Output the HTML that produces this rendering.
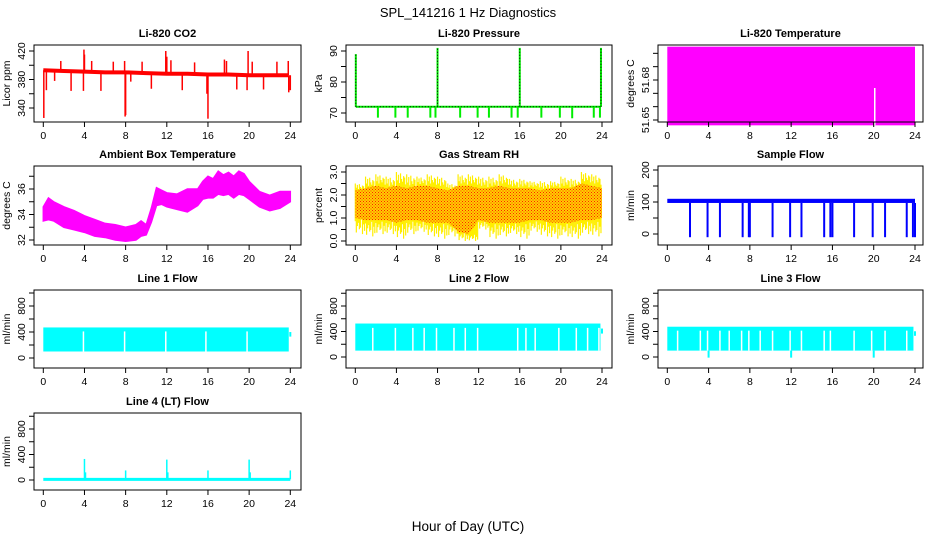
<!DOCTYPE html>
<html><head><meta charset="utf-8"><style>
html,body{margin:0;padding:0;background:#fff;}
svg{display:block;font-family:"Liberation Sans",sans-serif;}
</style></head><body>
<svg id="chart" width="936" height="540" viewBox="0 0 936 540" xmlns="http://www.w3.org/2000/svg">
<defs>
<pattern id="rhpat" width="3" height="3" patternUnits="userSpaceOnUse">
<rect width="3" height="3" fill="#ffd000"/>
<rect x="0" y="0" width="1" height="1" fill="#ff2000"/>
<rect x="1.5" y="1.5" width="1" height="1" fill="#ff3000"/>
</pattern>
</defs>
<text x="468" y="17" font-size="13" text-anchor="middle">SPL_141216  1 Hz Diagnostics</text>
<text x="468" y="531" font-size="13.5" text-anchor="middle">Hour of Day (UTC)</text>
</svg>
<script>
// ---------- data ----------
const xTicks = [0,4,8,12,16,20,24];
// CO2
const co2BaseHours = [0,2,4,6,8,10,12,14,16,18,20,22,23.8];
const co2Base = [393,392,391,390,390,389,388,388,387,387,386,386,386];
const co2SpikeHours = [0.05,0.3,1.1,1.7,2.7,3.9,3.95,4.0,4.7,5.6,6.8,7.9,7.95,8.0,8.5,9.6,10.5,11.9,12.0,12.4,13.5,14.7,15.9,16.0,17.6,17.8,18.8,19.8,19.9,20.3,21.4,22.7,23.8,23.85,24.0];
const co2SpikeVals = [326,365,378,406,364,364,422,415,406,364,405,406,328,330,377,405,367,420,412,407,365,404,360,325,408,406,366,365,420,405,366,405,406,362,365];
// Pressure
const presBase = 72;
const presDipHours = [2.2,3.9,5.1,7.3,7.8,10.2,11.9,13.0,15.2,15.8,18.1,19.9,21.1,23.2,23.8];
const presDipVals = [68.5,68.5,68.5,68.5,68.5,68.5,68.5,68.5,68.5,68.5,68.5,68.5,68.3,68.5,68.5];
const presUpHours = [0.05,8.0,16.0,23.9];
const presUpVals = [89,91,91,91];
// Li-820 temperature
const tempLow = 51.646, tempHigh = 51.705;
const tempGapHours = [20.1];
const tempGapTop = [51.674];
// Ambient box temperature
const ambHours = [0,0.5,1,2,3,4,5,6,7,8,9,9.5,10,10.5,11,11.5,12,13,14,15,15.5,16,16.5,17,17.5,18,18.5,19,19.5,20,21,22,23,24];
const ambUpper = [34.6,35.3,35.0,34.6,34.3,33.9,33.6,33.3,33.2,33.0,33.2,33.5,33.2,34.5,36.1,35.9,35.7,35.6,36.0,36.0,36.6,37.0,36.8,37.4,37.1,37.3,37.0,37.4,37.2,36.6,35.8,35.5,35.8,35.8];
const ambLower = [33.5,33.6,33.5,33.0,32.8,32.6,32.3,32.2,32.0,31.9,32.0,32.3,32.4,33.4,34.7,34.8,34.6,34.4,34.2,34.7,35.2,35.3,35.3,35.6,35.5,35.6,35.3,35.6,35.5,35.2,34.6,34.3,34.5,35.0];
// Gas stream RH
const rhHours = [0,1,2,3,4,5,6,7,8,9,10,11,12,13,14,15,16,17,18,19,20,21,22,23,24];
const rhMax = [2.5,2.8,2.9,2.8,3.0,2.9,2.8,2.9,2.8,2.5,2.9,2.9,2.8,2.8,2.9,2.7,2.7,2.6,2.6,2.6,2.8,2.7,3.0,2.9,3.0];
const rhMin = [0.3,0.2,0.3,0.3,0.1,0.3,0.4,0.2,0.1,0.2,0.0,0.0,0.5,0.1,0.2,0.3,0.1,0.4,0.2,0.1,0.2,0.1,0.3,0.2,0.6];
const rhCoreHigh = [2.2,2.3,2.4,2.3,2.4,2.3,2.4,2.4,2.3,2.2,2.4,2.4,2.3,2.3,2.4,2.3,2.3,2.3,2.2,2.3,2.3,2.3,2.5,2.4,2.3];
const rhCoreLow = [1.0,0.9,0.9,0.9,0.8,0.9,0.9,0.8,0.8,0.8,0.4,0.3,0.9,0.8,0.8,0.8,0.8,0.9,0.9,0.8,0.8,0.8,0.9,0.9,1.0];
// Sample flow
const sfLow = 97, sfHigh = 110;
const sfDipHours = [2.2,3.9,5.1,7.3,7.9,8.0,10.2,11.9,13.0,15.2,15.8,16.0,18.1,19.9,21.1,23.2,23.8,24.0];
const sfDipVals = [-10,-10,-10,-10,-10,-10,-10,-10,-10,-10,-10,-10,-10,-10,-10,-10,-10,-10];
// Line flows
const l1Low = 100, l1High = 470;
const l1Gaps = [3.9,7.9,11.9,15.8,19.8];
const l2Low = 100, l2High = 525;
const l2Gaps = [1.7,3.9,5.6,6.7,7.9,9.6,10.7,11.9,15.8,16.6,17.5,19.8,21.5,22.6,23.7];
const l3Low = 100, l3High = 475;
const l3Gaps = [1.0,3.2,3.9,5.1,6.0,7.2,7.9,9.0,10.2,11.9,13.0,15.2,15.8,18.1,19.8,21.1,23.2];
const l3DipHours = [4.0,12.0,20.0];
const l3DipVals = [-10,-10,-10];
// Line 4
const l4Base = 10;
const l4SpikeHours = [4.0,4.1,8.0,12.0,12.1,16.0,20.0,20.1,24.0];
const l4SpikeVals = [330,120,150,320,120,150,320,120,150];

// ---------- layout ----------
const cols = [{bl:34,br:301,x0:43.3,x24:290.3},{bl:346,br:612,x0:355.3,x24:602},{bl:658,br:923,x0:667.3,x24:915}];
const rows = [{bt:45,bb:122},{bt:166,bb:245},{bt:290,bb:368},{bt:413,bb:490}];
const svg = document.getElementById('chart');
const NS = 'http://www.w3.org/2000/svg';
function mk(tag, attrs, parent){const e=document.createElementNS(NS,tag);for(const k in attrs)e.setAttribute(k,attrs[k]);(parent||svg).appendChild(e);return e;}

function panel(name,title,ylab,col,row,cal,ticks,labels,labelFmt){
  const c=cols[col], r=rows[row];
  const g=mk('g',{});
  
  
  const sx=h=>c.x0+(c.x24-c.x0)*h/24;
  const sy=v=>cal[1]+(cal[3]-cal[1])*(v-cal[0])/(cal[2]-cal[0]);
  const t=mk('text',{x:(c.bl+c.br)/2,y:r.bt-8,'font-size':11,'font-weight':'bold','text-anchor':'middle'},g);
  t.textContent=title;
  
  
  const plot=mk('g',{},g);
  
  
  const axes=mk('g',{},g);
  mk('rect',{x:c.bl,y:r.bt,width:c.br-c.bl,height:r.bb-r.bt,fill:'none',stroke:'#000','stroke-width':1},axes);
  const xa=mk('g',{},axes);
  
  
  mk('line',{x1:sx(0),x2:sx(24),y1:r.bb,y2:r.bb,stroke:'#000'},xa);
  xTicks.forEach(h=>{
    mk('line',{x1:sx(h),x2:sx(h),y1:r.bb,y2:r.bb+5,stroke:'#000'},xa);
    const tl=mk('text',{x:sx(h),y:r.bb+17,'font-size':10.5,'text-anchor':'middle'},xa);
    tl.textContent=h;
  });
  const ya=mk('g',{},axes);
  
  
  mk('line',{x1:c.bl,x2:c.bl,y1:sy(ticks[0]),y2:sy(ticks[ticks.length-1]),stroke:'#000'},ya);
  ticks.forEach(v=>mk('line',{x1:c.bl-5,x2:c.bl,y1:sy(v),y2:sy(v),stroke:'#000'},ya));
  labels.forEach(v=>{
    const x=c.bl-9, y=sy(v);
    const tl=mk('text',{x:x,y:y,'font-size':10.5,'text-anchor':'middle',transform:`rotate(-90 ${x} ${y})`},ya);
    tl.textContent=labelFmt?labelFmt(v):v;
  });
  const yl=mk('text',{x:c.bl-24,y:(r.bt+r.bb)/2,'font-size':10.5,'text-anchor':'middle',transform:`rotate(-90 ${c.bl-24} ${(r.bt+r.bb)/2})`},ya);
  yl.textContent=ylab;
  
  
  return {plot,sx,sy};
}
function vline(p,x,y1,y2,color,w,name){const l=mk('line',{x1:x,x2:x,y1:y1,y2:y2,stroke:color,'stroke-width':w||2},p);return l;}
function interp(xs,ys,x){for(let i=0;i<xs.length-1;i++){if(x<=xs[i+1]){const f=(x-xs[i])/(xs[i+1]-xs[i]);return ys[i]+f*(ys[i+1]-ys[i]);}}return ys[ys.length-1];}

// CO2
{const P=panel('co2','Li-820 CO2','Licor ppm',0,0,[340,108,420,51],[340,360,380,400,420],[340,380,420]);
 const pts=co2BaseHours.map((h,i)=>`${P.sx(h)},${P.sy(co2Base[i])}`).join(' ');
 const bl=mk('polyline',{points:pts,fill:'none',stroke:'#ff0000','stroke-width':4},P.plot);
 
 co2SpikeHours.forEach((h,i)=>vline(P.plot,P.sx(h),P.sy(interp(co2BaseHours,co2Base,h)),P.sy(co2SpikeVals[i]),'#ff0000',1.5,'co2-spike'));}
// Pressure
{const P=panel('pressure','Li-820 Pressure','kPa',1,0,[70,113,90,51],[70,75,80,85,90],[70,80,90]);
 const b=mk('line',{x1:P.sx(0.05),x2:P.sx(23.9),y1:P.sy(presBase),y2:P.sy(presBase),stroke:'#00ee00','stroke-width':2},P.plot);
 
 mk('line',{x1:P.sx(0.05),x2:P.sx(23.9),y1:P.sy(presBase),y2:P.sy(presBase),stroke:'#000','stroke-width':1,'stroke-dasharray':'1 2'},P.plot);
 presDipHours.forEach((h,i)=>vline(P.plot,P.sx(h),P.sy(presBase),P.sy(presDipVals[i]),'#00ee00',2,'pressure-dip'));
 presUpHours.forEach((h,i)=>{vline(P.plot,P.sx(h),P.sy(presBase),P.sy(presUpVals[i]),'#00ee00',2,'pressure-spike');
   mk('line',{x1:P.sx(h),x2:P.sx(h),y1:P.sy(presBase),y2:P.sy(presUpVals[i]),stroke:'#000','stroke-width':1,'stroke-dasharray':'1 2'},P.plot);});}
// Li-820 temp
{const P=panel('li820-temp','Li-820 Temperature','degrees C',2,0,[51.65,120,51.68,80],[51.65,51.66,51.67,51.68,51.69,51.70],[51.65,51.68],v=>v.toFixed(2));
 const r=mk('rect',{x:P.sx(0),y:P.sy(tempHigh),width:P.sx(24)-P.sx(0),height:P.sy(tempLow)-P.sy(tempHigh),fill:'#ff00ff'},P.plot);
 
 tempGapHours.forEach((h,i)=>vline(P.plot,P.sx(h),P.sy(tempGapTop[i]),P.sy(tempLow),'#fff',1.5,'li820-temp-gap'));}
// Ambient
{const P=panel('ambient-temp','Ambient Box Temperature','degrees C',0,1,[32,240,36,189],[32,33,34,35,36,37],[32,34,36]);
 const up=ambHours.map((h,i)=>`${P.sx(h)},${P.sy(ambUpper[i])}`);
 const lo=ambHours.map((h,i)=>`${P.sx(h)},${P.sy(ambLower[i])}`).reverse();
 const pg=mk('polygon',{points:up.concat(lo).join(' '),fill:'#ff00ff',stroke:'#ff00ff','stroke-width':1.5},P.plot);
 }
// RH
{const P=panel('rh','Gas Stream RH','percent',1,1,[0,241,3,172],[0,0.5,1,1.5,2,2.5,3],[0,1,2,3],v=>v.toFixed(1));
 const frac=[1,0.4,0.8,0.2,0.9,0.5,0.3,0.7,0.6,0.1];
 rhHours.slice(0,-1).forEach((h,i)=>{for(let k=0;k<10;k++){const t=h+k/10;
   const hi=rhCoreHigh[i]+(rhMax[i]-rhCoreHigh[i])*frac[k], lo=rhCoreLow[i]-(rhCoreLow[i]-rhMin[i])*frac[(k+3)%10];
   vline(P.plot,P.sx(t),P.sy(hi),P.sy(lo),'#ffee00',1.2,'rh-spike');}});
 const up=rhHours.map((h,i)=>`${P.sx(h)},${P.sy(rhCoreHigh[i])}`);
 const lo=rhHours.map((h,i)=>`${P.sx(h)},${P.sy(rhCoreLow[i])}`).reverse();
 const pg=mk('polygon',{points:up.concat(lo).join(' '),fill:'url(#rhpat)'},P.plot);
 }
// Sample flow
{const P=panel('sample-flow','Sample Flow','ml/min',2,1,[0,234,200,170],[0,50,100,150,200],[0,100,200]);
 const r=mk('rect',{x:P.sx(0),y:P.sy(sfHigh),width:P.sx(24)-P.sx(0),height:P.sy(sfLow)-P.sy(sfHigh),fill:'#0000ff'},P.plot);
 
 sfDipHours.forEach((h,i)=>vline(P.plot,P.sx(h),P.sy(sfLow),P.sy(sfDipVals[i]),'#0000ff',2,'sample-flow-dip'));}
// Line flows
function linePanel(name,title,col,row,cal,low,high,gaps,dipH,dipV){
 const P=panel(name,title,'ml/min',col,row,cal,[0,200,400,600,800,1000],[0,400,800]);
 const r=mk('rect',{x:P.sx(0),y:P.sy(high),width:P.sx(23.85)-P.sx(0),height:P.sy(low)-P.sy(high),fill:'#00ffff'},P.plot);
 
 vline(P.plot,P.sx(24),P.sy(high*0.85),P.sy(high*0.7),'#00ffff',2,name+'-tail');
 gaps.forEach(h=>vline(P.plot,P.sx(h),P.sy(high*0.87),P.sy(low),'#fff',1.5,name+'-gap'));
 (dipH||[]).forEach((h,i)=>vline(P.plot,P.sx(h),P.sy(low),P.sy(dipV[i]),'#00ffff',2,name+'-dip'));
 return P;}
linePanel('line1-flow','Line 1 Flow',0,2,[0,358,800,306],l1Low,l1High,l1Gaps);
linePanel('line2-flow','Line 2 Flow',1,2,[0,357,800,306],l2Low,l2High,l2Gaps);
linePanel('line3-flow','Line 3 Flow',2,2,[0,357,800,306],l3Low,l3High,l3Gaps,l3DipHours,l3DipVals);
// Line 4
{const P=panel('line4-flow','Line 4 (LT) Flow','ml/min',0,3,[0,480,800,429],[0,200,400,600,800,1000],[0,400,800]);
 const b=mk('line',{x1:P.sx(0),x2:P.sx(24),y1:P.sy(l4Base),y2:P.sy(l4Base),stroke:'#00ffff','stroke-width':3},P.plot);
 
 l4SpikeHours.forEach((h,i)=>vline(P.plot,P.sx(h),P.sy(l4Base),P.sy(l4SpikeVals[i]),'#00ffff',1.5,'line4-flow-spike'));}
</script>
</body></html>
